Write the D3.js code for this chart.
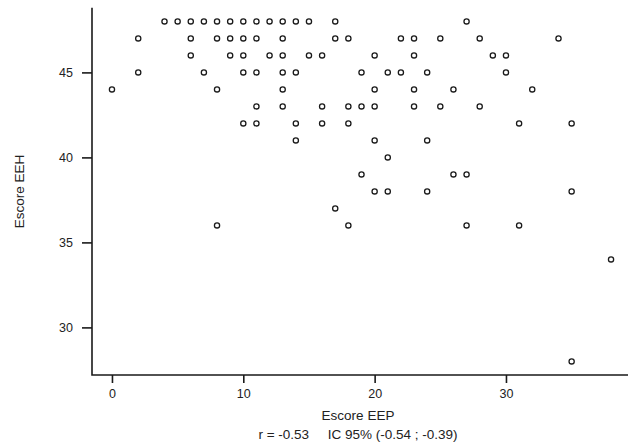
<!DOCTYPE html>
<html>
<head>
<meta charset="utf-8">
<script src="https://cdn.jsdelivr.net/npm/d3@7"></script>
<style>
  body { margin: 0; background: #fff; }
  svg { display: block; font-family: "Liberation Sans", Arial, sans-serif; }
</style>
</head>
<body>
<div id="chart"></div>
<script>
// EEH score levels and the EEP scores observed at each level
var eehLevels = [48, 47, 46, 45, 44, 43, 42, 41, 40, 39, 38, 37, 36, 34, 28];
var eepAtLevel = [
  [4, 5, 6, 7, 8, 9, 10, 11, 12, 13, 14, 15, 17, 27],
  [2, 6, 8, 9, 10, 11, 13, 17, 18, 22, 23, 25, 28, 34],
  [6, 9, 10, 12, 13, 15, 16, 20, 23, 29, 30],
  [2, 7, 10, 11, 13, 14, 19, 21, 22, 24, 30],
  [0, 8, 13, 20, 23, 26, 32],
  [11, 13, 16, 18, 19, 20, 23, 25, 28],
  [10, 11, 14, 16, 18, 31, 35],
  [14, 20, 24],
  [21],
  [19, 26, 27],
  [20, 21, 24, 35],
  [17],
  [8, 18, 27, 31],
  [38],
  [35]
];
var xTicks = [0, 10, 20, 30];
var yTicks = [30, 35, 40, 45];
var xTitle = "Escore EEP";
var yTitle = "Escore EEH";
var statsLine = "r = -0.53     IC 95% (-0.54 ; -0.39)";

var points = [];
eehLevels.forEach(function (lv, i) {
  eepAtLevel[i].forEach(function (v) { points.push({ eep: v, eeh: lv }); });
});

var W = 628, H = 447;
var svg = d3.select("#chart").append("svg").attr("width", W).attr("height", H);

// R style: ranges padded 4% beyond data
var x = d3.scaleLinear().domain([-1.52, 39.52]).range([92, 631]);
var y = d3.scaleLinear().domain([27.2, 48.8]).range([375, 7.8]);

var ink = "#1a1a1a";

// L-shaped frame
svg.append("path")
  .attr("d", "M" + x(-1.52) + "," + y(48.8) + "V" + y(27.2) + "H" + x(39.52))
  .attr("fill", "none").attr("stroke", ink).attr("stroke-width", 1.6);

// x axis
var gx = svg.append("g").attr("transform", "translate(0," + y(27.2) + ")")
  .call(d3.axisBottom(x).tickValues(xTicks).tickSize(8).tickPadding(6));
gx.select(".domain").remove();
gx.selectAll("line").attr("stroke", ink).attr("stroke-width", 1.6);
gx.selectAll("text").attr("fill", "#222").style("font-size", "12.5px")
  .style("font-family", "Liberation Sans, Arial, sans-serif");

// y axis
var gy = svg.append("g").attr("transform", "translate(" + x(-1.52) + ",0)")
  .call(d3.axisLeft(y).tickValues(yTicks).tickSize(10).tickPadding(9));
gy.select(".domain").remove();
gy.selectAll("line").attr("stroke", ink).attr("stroke-width", 1.6);
gy.selectAll("text").attr("fill", "#222").style("font-size", "12.5px")
  .style("font-family", "Liberation Sans, Arial, sans-serif");

// points
svg.append("g").selectAll("circle")
  .data(points)
  .enter()
  .append("circle")
  .attr("cx", function (d) { return x(d.eep); })
  .attr("cy", function (d) { return y(d.eeh); })
  .attr("r", 2.6)
  .attr("fill", "none")
  .attr("stroke", ink)
  .attr("stroke-width", 1.3);

// titles
svg.append("text")
  .attr("x", 358).attr("y", 420)
  .attr("text-anchor", "middle")
  .attr("fill", "#222")
  .style("font-size", "13.5px")
  .text(xTitle);

svg.append("text")
  .attr("x", 358).attr("y", 439)
  .attr("text-anchor", "middle")
  .attr("fill", "#222")
  .style("font-size", "13.5px")
  .style("white-space", "pre")
  .attr("xml:space", "preserve")
  .text(statsLine);

svg.append("text")
  .attr("transform", "translate(24," + y(38) + ") rotate(-90)")
  .attr("text-anchor", "middle")
  .attr("fill", "#222")
  .style("font-size", "13.5px")
  .text(yTitle);
</script>
</body>
</html>
